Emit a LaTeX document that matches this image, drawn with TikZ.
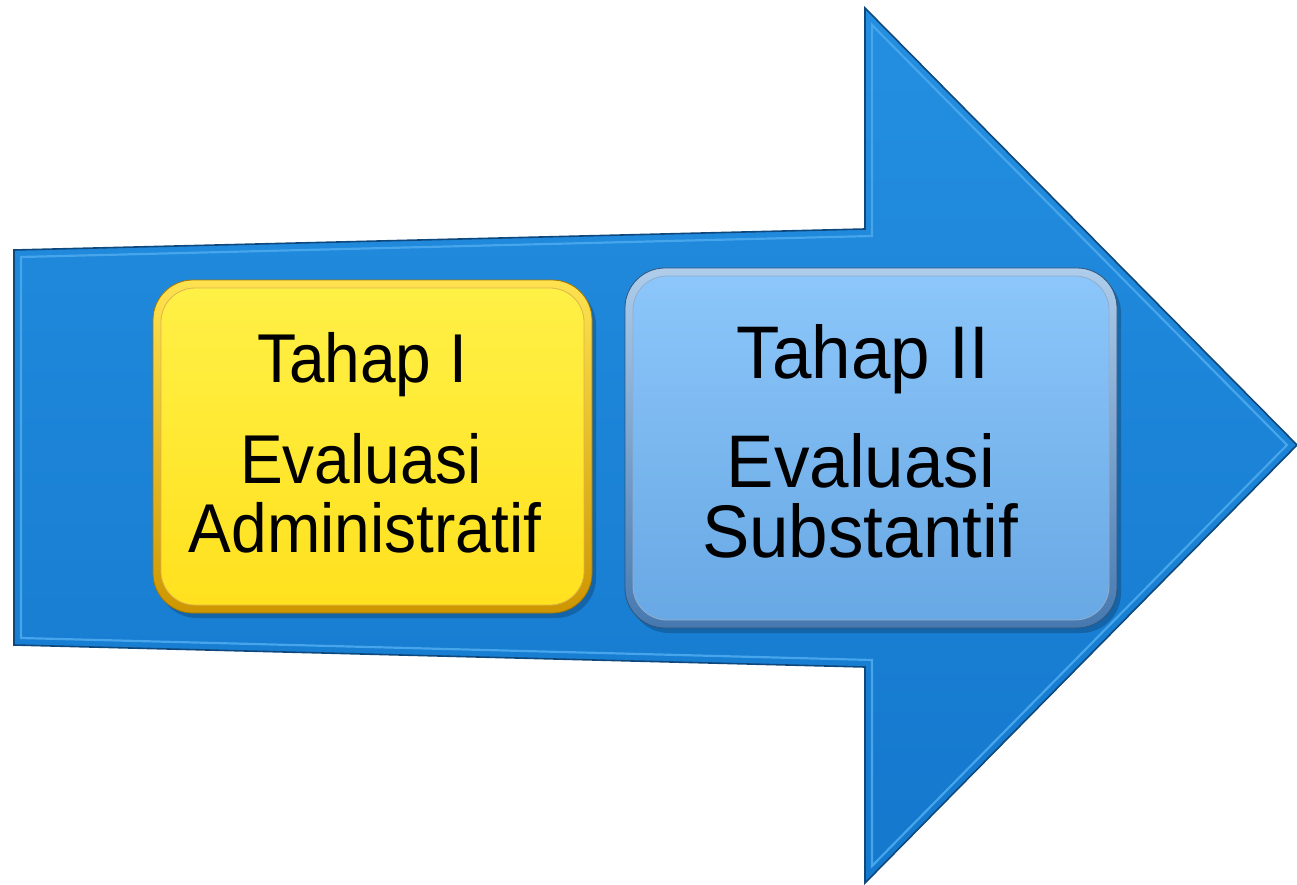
\documentclass[tikz,border=0pt]{standalone}
\usepackage{fontspec}
\setmainfont{Liberation Sans}
\definecolor{arrowtop}{RGB}{36,143,225}
\definecolor{arrowbot}{RGB}{20,120,205}
\definecolor{arrowedge}{RGB}{14,72,125}
\definecolor{arrowlight}{RGB}{70,165,235}
\definecolor{goldlight}{RGB}{255,226,80}
\definecolor{golddark}{RGB}{205,150,0}
\definecolor{yellowtop}{RGB}{255,240,70}
\definecolor{yellowbot}{RGB}{255,225,30}
\definecolor{bblight}{RGB}{175,205,235}
\definecolor{bbdark}{RGB}{70,120,175}
\definecolor{bluetop}{RGB}{140,198,250}
\definecolor{bluebot}{RGB}{104,168,228}
\definecolor{shadowc}{RGB}{10,50,90}
\tikzset{
  boxshadow/.style={rounded corners=40pt, fill=shadowc, opacity=0.35, inner sep=0pt},
  yellowrim/.style={rounded corners=40pt, top color=goldlight, bottom color=golddark, draw=golddark!80!black, line width=0.8pt, inner sep=0pt},
  yellowface/.style={rounded corners=34pt, top color=yellowtop, bottom color=yellowbot, draw=golddark!70, line width=0.8pt, inner sep=0pt},
  bluerim/.style={rounded corners=40pt, top color=bblight, bottom color=bbdark, draw=bbdark!70!black, line width=0.8pt, inner sep=0pt},
  blueface/.style={rounded corners=34pt, top color=bluetop, bottom color=bluebot, draw=bbdark!60, line width=0.8pt, inner sep=0pt},
  ytext/.style={anchor=base, inner sep=0pt, font=\fontsize{64}{70}\selectfont},
  btext/.style={anchor=base, inner sep=0pt, font=\fontsize{71}{78}\selectfont},
}
\begin{document}
\begin{tikzpicture}[x=1pt,y=-1pt]
\useasboundingbox (0,0) rectangle (1297,885);
% big arrow
\draw[draw=arrowedge, line width=1.6pt, top color=arrowtop, bottom color=arrowbot]
  (14,250) -- (865,229) -- (865,8) -- (1297,445) -- (865,883) -- (865,667) -- (14,645) -- cycle;
\draw[arrowlight, line width=2.2pt]
  (21,257) -- (872,236) -- (872,25) -- (1287,445) -- (872,866) -- (872,660) -- (21,638) -- cycle;
% yellow box
\node[boxshadow, minimum width=439pt, minimum height=333pt] (s1) at (376.5,451.5) {};
\node[yellowrim, minimum width=439pt, minimum height=333pt] (box1) at (372.5,446.5) {};
\node[yellowface, minimum width=423pt, minimum height=317pt] (face1) at (box1.center) {};
\node[ytext] (t1a) at (362,382) {\scalebox{1}[1.08]{Tahap I}};
\node[ytext] (t1b) at (361,483) {\scalebox{1}[1.08]{Evaluasi}};
\node[ytext] (t1c) at (365,552) {\scalebox{1}[1.08]{Administratif}};
% blue box
\node[boxshadow, minimum width=492pt, minimum height=360pt] (s2) at (875,453) {};
\node[bluerim, minimum width=492pt, minimum height=360pt] (box2) at (871,448) {};
\node[blueface, minimum width=476pt, minimum height=344pt] (face2) at (box2.center) {};
\node[btext] (t2a) at (863,378) {\scalebox{1}[1.05]{Tahap II}};
\node[btext] (t2b) at (861,487) {\scalebox{1}[1.05]{Evaluasi}};
\node[btext] (t2c) at (860,557) {\scalebox{1}[1.05]{Substantif}};
\end{tikzpicture}
\end{document}
